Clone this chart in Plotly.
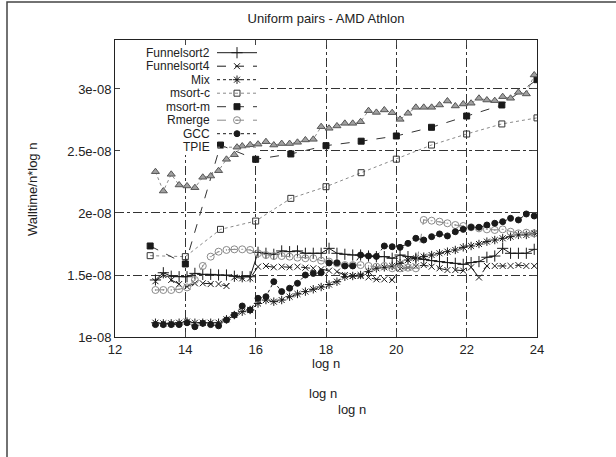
import numpy as np
import plotly.graph_objects as go

# ---- data (values in units of 1e-08) ----
x_dense = [13.150, 13.374, 13.599, 13.823, 14.048, 14.272, 14.496, 14.721, 14.945, 15.170,
           15.394, 15.618, 15.843, 16.067, 16.292, 16.516, 16.740, 16.965, 17.189, 17.414,
           17.638, 17.862, 18.087, 18.311, 18.536, 18.760, 18.984, 19.209, 19.433, 19.658,
           19.882, 20.106, 20.331, 20.555, 20.780, 21.004, 21.228, 21.453, 21.677, 21.902,
           22.126, 22.350, 22.575, 22.799, 23.024, 23.248, 23.472, 23.697, 23.921]
x_int = [13, 14, 15, 16, 17, 18, 19, 20, 21, 22, 23, 24]

funnelsort2 = [1.46, 1.518, 1.49, 1.486, 1.486, 1.513, 1.505, 1.505, 1.50, 1.50,
               1.49, 1.486, 1.486, 1.683, 1.675, 1.667, 1.694, 1.688, 1.694, 1.675,
               1.675, 1.675, 1.715, 1.675, 1.667, 1.661, 1.661, 1.653, 1.648, 1.648,
               1.635, 1.661, 1.648, 1.635, 1.626, 1.616, 1.608, 1.60, 1.594, 1.586,
               1.60, 1.608, 1.643, 1.653, 1.715, 1.675, 1.675, 1.675, 1.707]
funnelsort4 = [1.45, 1.50, 1.46, 1.427, 1.406, 1.433, 1.433, 1.427, 1.427, 1.411,
               1.481, 1.473, 1.473, 1.567, 1.573, 1.562, 1.567, 1.562, 1.567, 1.559,
               1.554, 1.546, 1.535, 1.527, 1.50, 1.492, 1.492, 1.481, 1.465, 1.465,
               1.46, 1.55, 1.56, 1.57, 1.58, 1.567, 1.554, 1.54, 1.54, 1.535,
               1.562, 1.48, 1.573, 1.573, 1.573, 1.573, 1.58, 1.573, 1.573]
mix = [1.115, 1.11, 1.11, 1.115, 1.124, 1.115, 1.115, 1.115, 1.115, 1.143,
       1.177, 1.204, 1.218, 1.27, 1.298, 1.285, 1.298, 1.325, 1.347, 1.366,
       1.385, 1.403, 1.423, 1.446, 1.486, 1.492, 1.50, 1.527, 1.554, 1.562,
       1.573, 1.594, 1.621, 1.635, 1.648, 1.661, 1.675, 1.688, 1.702, 1.723,
       1.734, 1.75, 1.769, 1.782, 1.796, 1.809, 1.823, 1.823, 1.836]
msort_c = [1.656, 1.648, 1.868, 1.935, 2.118, 2.212, 2.325, 2.434, 2.548, 2.637, 2.718, 2.767]
msort_m = [1.734, 1.589, 2.548, 2.433, 2.476, 2.543, 2.579, 2.621, 2.691, 2.782, 2.871, 3.075]
rmerge = [1.379, 1.379, 1.379, 1.385, 1.40, 1.46, 1.573, 1.648, 1.688, 1.702,
          1.707, 1.707, 1.702, 1.675, 1.661, 1.653, 1.653, 1.648, 1.64, 1.635,
          1.635, 1.616, 1.608, 1.594, 1.58, 1.58, 1.58, 1.573, 1.567, 1.573,
          1.554, 1.554, 1.559, 1.554, 1.944, 1.938, 1.93, 1.917, 1.903, 1.895,
          1.885, 1.876, 1.868, 1.863, 1.868, 1.849, 1.836, 1.841, 1.836]
gcc = [1.10, 1.10, 1.10, 1.10, 1.115, 1.083, 1.11, 1.10, 1.09, 1.137,
       1.177, 1.25, 1.218, 1.312, 1.325, 1.446, 1.366, 1.393, 1.433, 1.50,
       1.513, 1.518, 1.597, 1.598, 1.573, 1.573, 1.661, 1.653, 1.65, 1.734,
       1.728, 1.723, 1.755, 1.796, 1.782, 1.809, 1.831, 1.815, 1.849, 1.868,
       1.885, 1.885, 1.903, 1.917, 1.93, 1.957, 1.944, 1.992, 1.976]
tpie = [2.333, 2.177, 2.312, 2.226, 2.218, 2.204, 2.288, 2.298, 2.341, 2.433,
        2.47, 2.54, 2.55, 2.555, 2.575, 2.548, 2.56, 2.56, 2.57, 2.589,
        2.594, 2.696, 2.683, 2.702, 2.723, 2.723, 2.736, 2.825, 2.811, 2.831,
        2.809, 2.755, 2.804, 2.852, 2.852, 2.852, 2.871, 2.903, 2.863, 2.879,
        2.885, 2.925, 2.911, 2.906, 2.938, 2.925, 2.973, 2.96, 3.113]

x_ticks = [12, 14, 16, 18, 20, 22, 24]
y_ticks = [1.0, 1.5, 2.0, 2.5, 3.0]
y_ticktext = ["1e-08", "1.5e-08", "2e-08", "2.5e-08", "3e-08"]
SCALE = 1e-08
Y_TOP = 3.395

BLACK = "#1a1a1a"
GRAY = "#8a8a8a"

# name, x, y, dash, line colour, symbol, size, marker colour, marker edge
series = [
    ("Funnelsort2", x_dense, funnelsort2, "solid", BLACK, "cross-thin-open", 8, BLACK, BLACK),
    ("Funnelsort4", x_dense, funnelsort4, "dash", BLACK, "x-thin-open", 6, BLACK, BLACK),
    ("Mix", x_dense, mix, "dot", BLACK, "asterisk-open", 7, BLACK, BLACK),
    ("msort-c", x_int, msort_c, "dot", GRAY, "square-open", 6, "#333333", "#333333"),
    ("msort-m", x_int, msort_m, "dash", "#333333", "square", 6, BLACK, BLACK),
    ("Rmerge", x_dense, rmerge, "dash", GRAY, "circle-open-dot", 7, GRAY, GRAY),
    ("GCC", x_dense, gcc, "dot", BLACK, "circle", 6, BLACK, BLACK),
    ("TPIE", x_dense, tpie, "dot", GRAY, "triangle-up", 7, "#a0a0a0", "#555555"),
]

W, H = 616, 457
L, R, T, B = 115, 537, 40, 337

def px(xp):
    return (xp - L) / (R - L)

def py(yp):
    return (B - yp) / (B - T)

fig = go.Figure()
for name, xs, ys, dash, lcol, sym, size, mcol, ecol in series:
    fig.add_trace(go.Scatter(
        x=xs, y=np.array(ys) * SCALE, name=name, mode="lines+markers",
        line=dict(color=lcol, width=1, dash=dash),
        marker=dict(symbol=sym, size=size, color=mcol, line=dict(width=1, color=ecol)),
        showlegend=False,
    ))

# ---- key (legend) in pixel space on an overlay axis ----
KEY_TEXT_RIGHT = 211
KEY_LINE = (217, 257)
KEY_MARK = 237
KEY_TOP = 52.7
KEY_STEP = 13.5
KEY_BOX_RIGHT = 260
KEY_BOX_BOTTOM = 155
for i, (name, xs, ys, dash, lcol, sym, size, mcol, ecol) in enumerate(series):
    ry = KEY_TOP + i * KEY_STEP
    fig.add_trace(go.Scatter(
        x=[KEY_LINE[0], KEY_LINE[1]], y=[ry, ry], mode="lines",
        line=dict(color=lcol, width=1, dash=dash), xaxis="x2", yaxis="y2",
        showlegend=False, hoverinfo="skip",
    ))
    fig.add_trace(go.Scatter(
        x=[KEY_MARK], y=[ry], mode="markers",
        marker=dict(symbol=sym, size=size, color=mcol, line=dict(width=1, color=ecol)),
        xaxis="x2", yaxis="y2", showlegend=False, hoverinfo="skip",
    ))
    fig.add_annotation(text=name, x=KEY_TEXT_RIGHT, y=ry, xref="x2", yref="y2",
                       xanchor="right", yanchor="middle", showarrow=False,
                       borderpad=0, font=dict(size=12))

# key area hides the grid lines behind it (drawn between grid and traces)
x_per_px = 12.0 / (R - L)
y_per_px = (Y_TOP - 1.0) / (B - T)
fig.add_shape(type="rect", xref="x", yref="y", layer="between",
              x0=12.0, x1=12.0 + (KEY_BOX_RIGHT - L) * x_per_px,
              y0=(1.0 + (B - KEY_BOX_BOTTOM) * y_per_px) * SCALE, y1=Y_TOP * SCALE,
              line=dict(width=0), fillcolor="white")

fig.update_layout(
    width=W, height=H,
    margin=dict(l=L, r=W - R, t=T, b=H - B),
    paper_bgcolor="white", plot_bgcolor="white",
    font=dict(family="Liberation Sans, Arial, sans-serif", size=13, color="#222222"),
    title=dict(text="Uniform pairs - AMD Athlon", x=0.5, xref="paper", xanchor="center",
               y=1 - 18 / H, yref="container", yanchor="middle",
               font=dict(size=13, color="#222222")),
    showlegend=False,
    xaxis=dict(range=[12, 24], tickvals=x_ticks, ticks="inside", ticklen=5,
               showline=True, linecolor="#222222", linewidth=1, mirror="ticks",
               showgrid=True, gridcolor="#333333", griddash="dashdot", gridwidth=1,
               zeroline=False, tickfont=dict(size=13)),
    yaxis=dict(range=[1.0 * SCALE, Y_TOP * SCALE],
               tickvals=[v * SCALE for v in y_ticks], ticktext=y_ticktext,
               ticks="inside", ticklen=5,
               showline=True, linecolor="#222222", linewidth=1, mirror="ticks",
               showgrid=True, gridcolor="#333333", griddash="dashdot", gridwidth=1,
               zeroline=False, tickfont=dict(size=13)),
    xaxis2=dict(overlaying="x", range=[L, R], visible=False, fixedrange=True),
    yaxis2=dict(overlaying="y", range=[B, T], visible=False, fixedrange=True),
)

# axis labels
fig.add_annotation(text="Walltime/n*log n", x=px(33), y=py(190), xref="paper", yref="paper",
                   xanchor="center", yanchor="middle",
                   textangle=-90, showarrow=False, font=dict(size=13))
for (lx, ly) in [(326, 363), (323, 393), (352, 410)]:
    fig.add_annotation(text="log n", x=px(lx), y=py(ly), xref="paper", yref="paper",
                       xanchor="center", yanchor="middle",
                       showarrow=False, font=dict(size=13))

# outer frame (top and left edges visible)
fig.add_shape(type="rect", xref="paper", yref="paper",
              x0=px(7), x1=px(W + 50), y0=py(H + 50), y1=py(2),
              line=dict(color="#444444", width=1.5), layer="below")

fig.write_html("out.html")
